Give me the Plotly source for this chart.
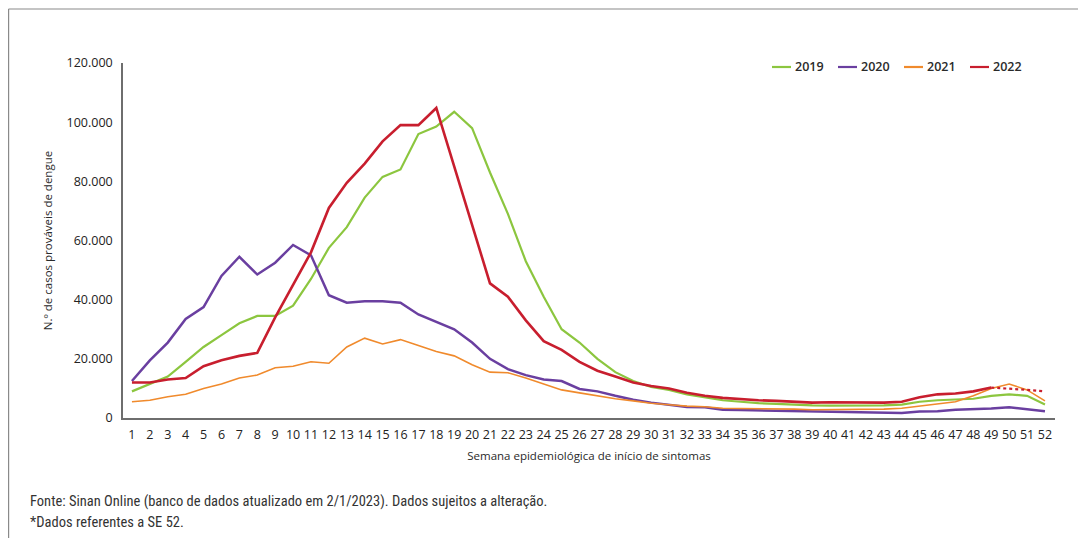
import plotly.graph_objects as go

weeks = list(range(1, 53))

cases_2019 = [9000, 11500, 14000, 19000, 24000, 28000, 32000, 34500, 34500, 38000,
              47000, 57500, 64500, 74500, 81500, 84000, 96000, 98500, 103500, 98000,
              83000, 69000, 53000, 41000, 30000, 25500, 20000, 15500, 12500, 10500,
              9500, 8000, 7000, 6000, 5500, 5000, 4800, 4500, 4300, 4200,
              4200, 4300, 4300, 4500, 5500, 6000, 6300, 6500, 7500, 8000, 7500, 4600]

cases_2020 = [12500, 19500, 25500, 33500, 37500, 48000, 54500, 48500, 52500, 58500,
              55000, 41500, 39000, 39500, 39500, 39000, 35000, 32500, 30000, 25500,
              20000, 16500, 14500, 13000, 12500, 9800, 9000, 7500, 6200, 5200,
              4500, 3700, 3600, 2800, 2700, 2600, 2500, 2300, 2200, 2000,
              2000, 2000, 1900, 1700, 2200, 2300, 2800, 2900, 3200, 3600, 3000, 2300]

cases_2021 = [5500, 6000, 7200, 8000, 10000, 11500, 13500, 14500, 17000, 17500,
              19000, 18500, 24000, 27000, 25000, 26500, 24500, 22500, 21000, 18000,
              15500, 15300, 13500, 11500, 9500, 8500, 7500, 6500, 5800, 5000,
              4500, 4000, 3800, 3300, 3200, 3200, 3200, 3000, 2800, 2800,
              2800, 3000, 3000, 3300, 4000, 4800, 5500, 7500, 10000, 11500, 9500, 5800]

cases_2022 = [12000, 12000, 13000, 13500, 17500, 19500, 21000, 22000, 34000, 45000,
              56000, 71000, 79500, 86000, 93500, 99000, 99000, 104800, 85000, 65000,
              45500, 41000, 33000, 26000, 23000, 19000, 16000, 14000, 12000, 10800,
              10000, 8500, 7500, 6800, 6300, 6000, 5800, 5500, 5200, 5300,
              5200, 5300, 5200, 5500, 7000, 8000, 8300, 9000, 10300]

weeks_2022_partial = [49, 50, 51, 52]
cases_2022_partial = [10300, 10000, 9500, 9000]

y_ticks = [0, 20000, 40000, 60000, 80000, 100000, 120000]

series_names = ["2019", "2020", "2021", "2022"]
series_colors = ["#8cc63f", "#6a3fa0", "#f08a2c", "#c81e2e"]
series_widths = [2.2, 2.5, 1.6, 2.6]
series_values = [cases_2019, cases_2020, cases_2021, cases_2022]

fig = go.Figure()
for name, color, width, vals in zip(series_names, series_colors, series_widths, series_values):
    fig.add_trace(go.Scatter(x=weeks[:len(vals)], y=vals, mode="lines", name=name,
                             showlegend=False, line=dict(color=color, width=width)))
fig.add_trace(go.Scatter(x=weeks_2022_partial, y=cases_2022_partial, mode="lines",
                         showlegend=False, line=dict(color=series_colors[3], width=2.2, dash="dot")))

# plot area in screen px: x 123..1055, y 63..418
def px_x(px):
    return (px - 123) / 932.0

def px_y(py):
    return (418 - py) / 355.0

# manual legend
leg_y = px_y(67)
leg_starts = [772, 838, 904, 970]
for start, name, color, width in zip(leg_starts, series_names, series_colors, series_widths):
    fig.add_shape(type="line", xref="paper", yref="paper", x0=px_x(start), x1=px_x(start + 19),
                  y0=leg_y, y1=leg_y, line=dict(color=color, width=2.2))
    fig.add_annotation(text=name, xref="paper", yref="paper", x=px_x(start + 21), y=leg_y,
                       xanchor="left", yanchor="middle", showarrow=False,
                       font=dict(size=12.5, color="#2a2a2a", weight=600))

frame = "#8a8a8a"
fig.add_shape(type="line", xref="paper", yref="paper", x0=px_x(8.5), x1=px_x(1100), y0=px_y(9), y1=px_y(9),
              line=dict(color=frame, width=1.2))
fig.add_shape(type="line", xref="paper", yref="paper", x0=px_x(8.6), x1=px_x(8.6), y0=px_y(9), y1=px_y(545),
              line=dict(color=frame, width=1.2))

note_font = dict(family="Liberation Sans Narrow, Roboto Condensed, Roboto", size=14.5, color="#333333")
fig.add_annotation(text="Fonte: Sinan Online (banco de dados atualizado em 2/1/2023). Dados sujeitos a alteração.",
                   xref="paper", yref="paper", x=px_x(28), y=px_y(502), xanchor="left", yanchor="middle",
                   showarrow=False, font=note_font)
fig.add_annotation(text="*Dados referentes a SE 52.",
                   xref="paper", yref="paper", x=px_x(28), y=px_y(522), xanchor="left", yanchor="middle",
                   showarrow=False, font=note_font)

# page body has an 8px margin: figure origin is at screen (8, 8)
fig.update_layout(
    width=1078, height=530,
    margin=dict(l=115, r=31, t=55, b=120),
    paper_bgcolor="white", plot_bgcolor="white",
    separators=",.",
    font=dict(family="Open Sans, DejaVu Sans", size=12, color="#2a2a2a"),
    showlegend=False,
    xaxis=dict(range=[0.5, 52.56], tickmode="array", tickvals=weeks,
               ticktext=[str(w) for w in weeks], showgrid=False, zeroline=False,
               showline=True, linecolor="#6e6e6e", linewidth=1.5, ticks="",
               ticklabelstandoff=4,
               tickfont=dict(size=12.5, color="#222222"),
               title=dict(text="Semana epidemiológica de início de sintomas",
                          font=dict(size=11.5, color="#2a2a2a"), standoff=10)),
    yaxis=dict(range=[0, 120000], tickmode="array", tickvals=y_ticks, tickformat=",.0f",
               showgrid=False, zeroline=False, showline=True, linecolor="#6e6e6e",
               linewidth=1.5, ticks="", ticklabelstandoff=6,
               tickfont=dict(size=12.5, color="#222222"),
               title=dict(text="N.º de casos prováveis de dengue",
                          font=dict(size=11.5, color="#2a2a2a"), standoff=12)),
)

fig.write_html("out.html")
